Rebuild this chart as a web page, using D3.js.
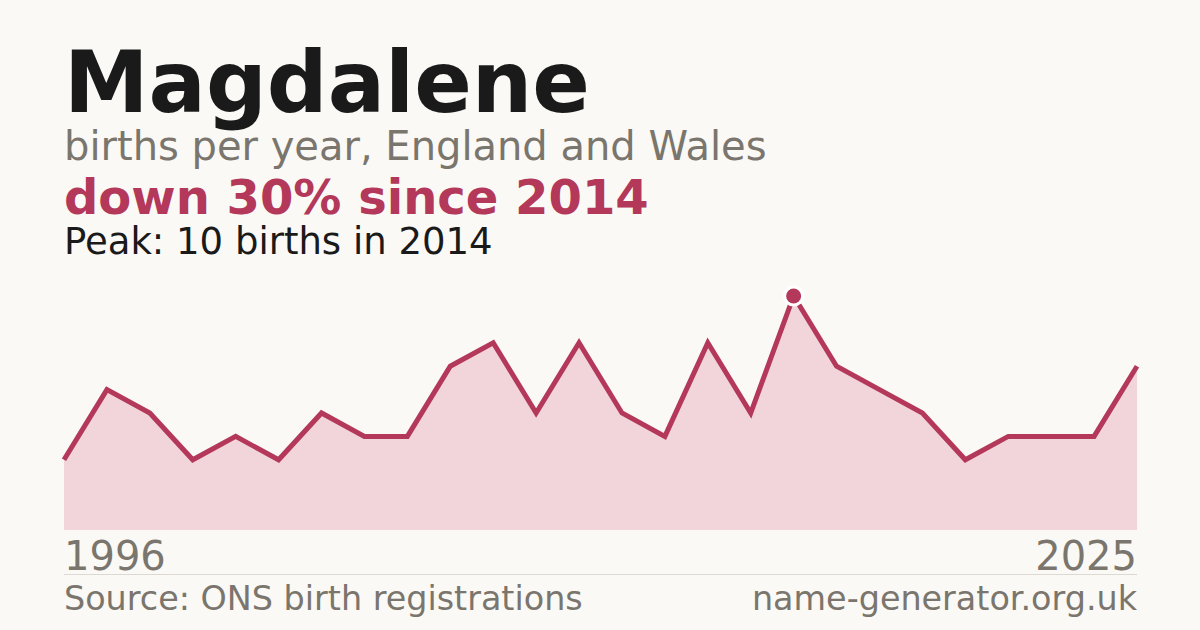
<!DOCTYPE html>
<html>
<head>
<meta charset="utf-8">
<script src="https://cdn.jsdelivr.net/npm/d3@7"></script>
<style>
  html, body { margin: 0; padding: 0; background: #faf9f5; }
  svg { display: block; font-family: "DejaVu Sans", sans-serif; }
</style>
</head>
<body>
<svg id="chart" width="1200" height="630"></svg>
<script>
// births per recorded year (years with no registrations are not listed)
var years = [1996, 1997, 1998, 1999, 2000, 2001, 2002, 2003, 2004, 2005, 2006, 2007, 2008,
  2009, 2010, 2011, 2013, 2014, 2015, 2016, 2018, 2019, 2021, 2023, 2024, 2025];
var births = [3, 6, 5, 3, 4, 3, 5, 4, 4, 7, 8, 5, 8, 5, 4, 8, 5, 10, 7, 6, 5, 3, 4, 4, 4, 7];
var axisLabels = ["1996", "2025"];

var red = "#b3385a",
    grey = "#7a756d";

var data = years.map(function (y, i) { return { year: y, value: births[i] }; });

var svg = d3.select("#chart"),
    margin = { left: 64, right: 63, top: 296, bottom: 100 },
    width = 1200 - margin.left - margin.right,
    bottom = 530;

var x = d3.scalePoint()
    .domain(years)
    .range([margin.left, margin.left + width]);

var y = d3.scaleLinear()
    .domain([0, d3.max(births)])
    .range([bottom, margin.top]);

// headings
svg.append("text").attr("x", 64).attr("y", 112)
  .attr("font-size", 85).attr("font-weight", "bold").attr("fill", "#1a1a1a")
  .text("Magdalene");
svg.append("text").attr("x", 64).attr("y", 160)
  .attr("font-size", 40).attr("fill", grey)
  .text("births per year, England and Wales");
svg.append("text").attr("x", 64).attr("y", 214)
  .attr("font-size", 48).attr("font-weight", "bold").attr("fill", red)
  .text("down 30% since 2014");
svg.append("text").attr("x", 64).attr("y", 254)
  .attr("font-size", 37).attr("fill", "#1a1a1a")
  .text("Peak: 10 births in 2014");

// area + line
var area = d3.area()
    .x(function (d) { return x(d.year); })
    .y0(bottom)
    .y1(function (d) { return y(d.value); });

var line = d3.line()
    .x(function (d) { return x(d.year); })
    .y(function (d) { return y(d.value); });

svg.append("path").datum(data)
  .attr("d", area)
  .attr("fill", "#f2d5da");

svg.append("path").datum(data)
  .attr("d", line)
  .attr("fill", "none")
  .attr("stroke", red)
  .attr("stroke-width", 5)
  .attr("stroke-linejoin", "miter");

// peak marker: white halo then dot
var peak = data.reduce(function (a, b) { return b.value > a.value ? b : a; });
svg.append("circle")
  .attr("cx", x(peak.year)).attr("cy", y(peak.value))
  .attr("r", 10.5)
  .attr("fill", "#ffffff");
svg.append("circle")
  .attr("cx", x(peak.year)).attr("cy", y(peak.value))
  .attr("r", 7.5)
  .attr("fill", red);

// end labels
svg.append("text").attr("x", x(years[0])).attr("y", 570)
  .attr("font-size", 40).attr("fill", grey)
  .text(axisLabels[0]);
svg.append("text").attr("x", x(years[years.length - 1])).attr("y", 570)
  .attr("font-size", 40).attr("fill", grey).attr("text-anchor", "end")
  .text(axisLabels[1]);

svg.append("line")
  .attr("x1", 64).attr("x2", 1137)
  .attr("y1", 574.5).attr("y2", 574.5)
  .attr("stroke", "#dcd9d2").attr("stroke-width", 1);

// footer
svg.append("text").attr("x", 64).attr("y", 610)
  .attr("font-size", 33.4).attr("fill", grey)
  .text("Source: ONS birth registrations");
svg.append("text").attr("x", 1137).attr("y", 610)
  .attr("font-size", 33.4).attr("fill", grey).attr("text-anchor", "end")
  .text("name-generator.org.uk");
</script>
</body>
</html>
